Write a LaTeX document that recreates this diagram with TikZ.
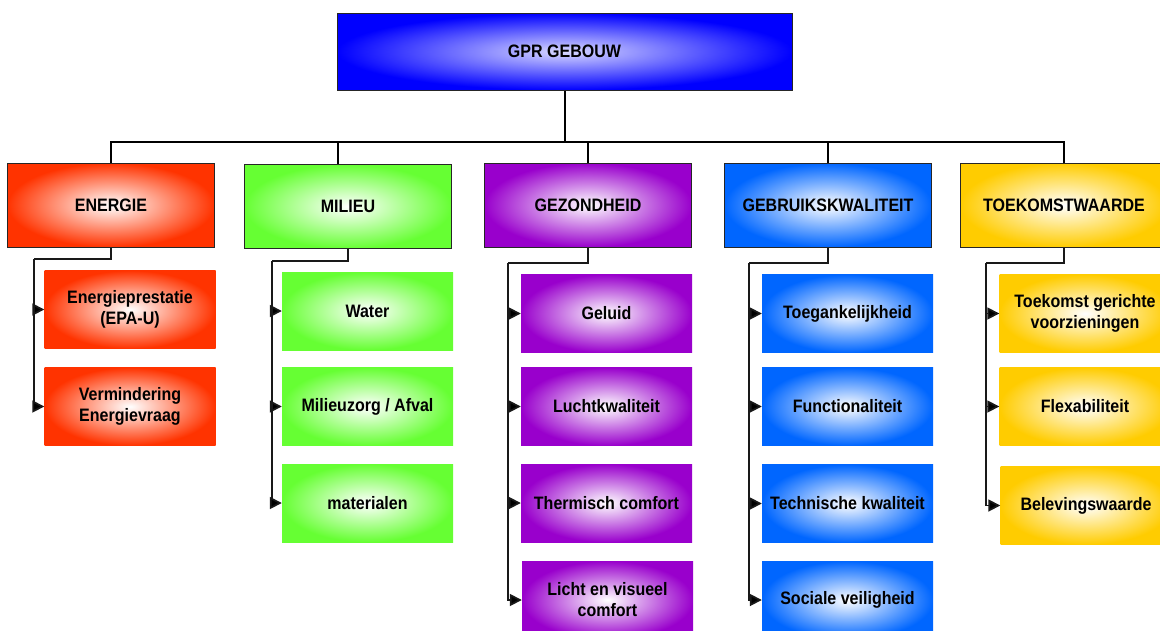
\documentclass[tikz,border=0pt]{standalone}
\usepackage{fontspec}
\setmainfont{Liberation Sans}[FakeStretch=0.89]
\usetikzlibrary{arrows.meta}
\definecolor{cTop}{HTML}{0000FF}
\definecolor{cE}{HTML}{FF3300}
\definecolor{cM}{HTML}{66FF33}
\definecolor{cG}{HTML}{9900CC}
\definecolor{cB}{HTML}{0066FF}
\definecolor{cT}{HTML}{FFCC00}
\tikzset{
  base/.style={rectangle, inner sep=0pt, align=center, text=black,
    font=\fontsize{18}{21}\selectfont\bfseries},
  topbox/.style={base, draw=black!85, line width=1pt, minimum width=455pt, minimum height=77pt,
    inner color=cTop!15!white, outer color=cTop},
  lvlbox/.style={base, draw=black!85, line width=1pt, minimum width=207pt, minimum height=84pt},
  leafbox/.style={base, minimum width=171pt, minimum height=78pt},
  shE/.style={inner color=white, outer color=cE},
  shM/.style={inner color=white, outer color=cM},
  shG/.style={inner color=white, outer color=cG},
  shB/.style={inner color=white, outer color=cB},
  shT/.style={inner color=white, outer color=cT},
  bus/.style={draw=black, line width=2pt},
  conn/.style={draw=black!90, line width=1.7pt},
  arr/.style={conn, -{Triangle[length=12pt,width=12pt,fill=black]}},
}
\begin{document}
\begin{tikzpicture}[x=1pt,y=-1pt]
\useasboundingbox (0,0) rectangle (1160,630);
\fill[white] (0,0) rectangle (1160,630);
\clip (0,0) rectangle (1160,630);

% top
\node[topbox] (top) at (564.5,51.5) {GPR GEBOUW};

% level 1
\node[lvlbox, shE] (E) at (111,205) {ENERGIE};
\node[lvlbox, shM] (M) at (348,206.5) {MILIEU};
\node[lvlbox, shG] (G) at (588,205) {GEZONDHEID};
\node[lvlbox, shB] (B) at (828,205) {GEBRUIKSKWALITEIT};
\node[lvlbox, shT] (T) at (1064,205) {TOEKOMSTWAARDE};

% leaves
\node[leafbox, shE] (E1) at (130,309.5) {Energieprestatie\\(EPA-U)};
\node[leafbox, shE] (E2) at (130,406.5) {Vermindering\\Energievraag};

\node[leafbox, shM] (M1) at (367.5,311) {Water};
\node[leafbox, shM] (M2) at (367.5,406.5) {Milieuzorg / Afval};
\node[leafbox, shM] (M3) at (367.5,503) {materialen};

\node[leafbox, shG] (G1) at (606.5,313.5) {Geluid};
\node[leafbox, shG] (G2) at (606.5,406.5) {Luchtkwaliteit};
\node[leafbox, shG] (G3) at (606.5,503) {Thermisch comfort};
\node[leafbox, shG] (G4) at (607.5,600) {Licht en visueel\\comfort};

\node[leafbox, shB] (B1) at (847.5,313.5) {Toegankelijkheid};
\node[leafbox, shB] (B2) at (847.5,406.5) {Functionaliteit};
\node[leafbox, shB] (B3) at (847.5,503.5) {Technische kwaliteit};
\node[leafbox, shB] (B4) at (847.5,600) {Sociale veiligheid};

\node[leafbox, shT] (T1) at (1085,313.5) {Toekomst gerichte\\voorzieningen};
\node[leafbox, shT] (T2) at (1085,406.5) {Flexabiliteit};
\node[leafbox, shT] (T3) at (1086,505.5) {Belevingswaarde};

% bus
\coordinate (bc) at (564.5,142);
\draw[bus] (top.south) -- (bc);
\draw[bus] (E.north) -- (E.north |- bc) -- (T.north |- bc) -- (T.north);
\draw[bus] ([xshift=-10pt]M.north |- bc) -- ([xshift=-10pt]M.north);
\draw[bus] (G.north |- bc) -- (G.north);
\draw[bus] (B.north |- bc) -- (B.north);

% elbows
\coordinate (eE) at (34,259);
\coordinate (eM) at (272,261);
\coordinate (eG) at (508,263);
\coordinate (eB) at (749,263);
\coordinate (eT) at (986,263);

\draw[conn] (E.south) |- (eE);
\draw[conn] (M.south) |- (eM);
\draw[conn] (G.south) |- (eG);
\draw[conn] (B.south) |- (eB);
\draw[conn] (T.south) |- (eT);

\foreach \c in {E1,E2} \draw[arr] (eE) |- (\c.west);
\foreach \c in {M1,M2,M3} \draw[arr] (eM) |- (\c.west);
\foreach \c in {G1,G2,G3,G4} \draw[arr] (eG) |- (\c.west);
\foreach \c in {B1,B2,B3,B4} \draw[arr] (eB) |- (\c.west);
\foreach \c in {T1,T2,T3} \draw[arr] (eT) |- (\c.west);
\end{tikzpicture}
\end{document}
